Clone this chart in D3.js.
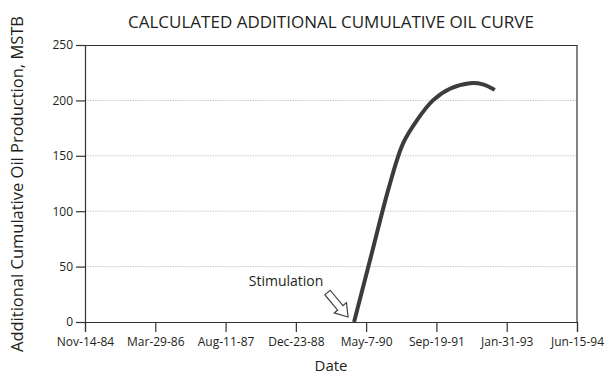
<!DOCTYPE html>
<html>
<head>
<meta charset="utf-8">
<script src="https://cdn.jsdelivr.net/npm/d3@7"></script>
<style>
    body { margin: 0; background: #fff; }
    svg text { font-family: "Open Sans", "Noto Sans", sans-serif; fill: #231f20; }
</style>
</head>
<body>
<div id="chart"></div>
<script>
// Curve points
const dates = ['1990-02-10', '1990-06-14', '1990-10-17', '1991-01-24', '1991-05-03',
    '1991-08-25', '1991-12-24', '1992-05-14', '1992-08-14', '1992-11-07'];
const cumOil = [0, 61, 122, 161, 182, 200, 210.5, 215.5, 214.5, 209.5];

const tickDates = ['1984-11-14', '1986-03-29', '1987-08-11', '1988-12-23', '1990-05-07', '1991-09-19', '1993-01-31', '1994-06-15'];
const tickLabels = ['Nov-14-84', 'Mar-29-86', 'Aug-11-87', 'Dec-23-88', 'May-7-90', 'Sep-19-91', 'Jan-31-93', 'Jun-15-94'];
const yTicks = [0, 50, 100, 150, 200, 250];

const stimulationDate = '1990-02-10';

const width = 607, height = 379;
const margin = {top: 45, right: 30, bottom: 57, left: 85};
const innerW = width - margin.left - margin.right;
const innerH = height - margin.top - margin.bottom;

const parse = d3.utcParse('%Y-%m-%d');
const data = dates.map((d, i) => ({date: parse(d), value: cumOil[i]}));

const svg = d3.select('#chart').append('svg')
    .attr('width', width)
    .attr('height', height);

const g = svg.append('g')
    .attr('transform', `translate(${margin.left},${margin.top})`);

const x = d3.scaleUtc()
    .domain([parse(tickDates[0]), parse(tickDates[tickDates.length - 1])])
    .range([0, innerW]);

const y = d3.scaleLinear()
    .domain([0, 250])
    .range([innerH, 0]);

// dotted gridlines
g.selectAll('.grid')
    .data(yTicks.slice(1, -1))
    .enter().append('line')
    .attr('class', 'grid')
    .attr('x1', 0)
    .attr('x2', innerW)
    .attr('y1', d => y(d))
    .attr('y2', d => y(d))
    .attr('stroke', '#c8c8c8')
    .attr('stroke-width', 1)
    .attr('stroke-dasharray', '1.5,1');

// frame top and right
g.append('path')
    .attr('d', `M0,0.5H${innerW}V${innerH}`)
    .attr('fill', 'none')
    .attr('stroke', '#333')
    .attr('stroke-width', 1.2);

// axes
const xAxis = g.append('g')
    .attr('transform', `translate(0,${innerH})`)
    .call(d3.axisBottom(x)
        .tickValues(tickDates.map(parse))
        .tickFormat((d, i) => tickLabels[i])
        .tickSize(10)
        .tickPadding(5));

const yAxis = g.append('g')
    .call(d3.axisLeft(y)
        .tickValues(yTicks)
        .tickSize(9)
        .tickPadding(3));

[xAxis, yAxis].forEach(a => {
    a.select('.domain').attr('stroke', '#333').attr('stroke-width', 1.2);
    a.selectAll('.tick line').attr('stroke', '#333').attr('stroke-width', 1.2);
    a.selectAll('.tick text')
        .attr('fill', '#231f20')
        .style('font-size', '12px')
        .style('font-family', '"Open Sans", sans-serif');
});

// the curve
const line = d3.line()
    .x(d => x(d.date))
    .y(d => y(d.value))
    .curve(d3.curveCatmullRom.alpha(0.5));

g.append('path')
    .datum(data)
    .attr('d', line)
    .attr('fill', 'none')
    .attr('stroke', '#3c3c3c')
    .attr('stroke-width', 4);

// stimulation arrow (hollow block arrow)
const sx = x(parse(stimulationDate)), sy = y(0);
const arrow = g.append('g')
    .attr('transform', `translate(${sx - 6},${sy - 5}) rotate(${-130})`);
arrow.append('path')
    .attr('d', 'M0,0 L12,-8 L12,-3.5 L32,-3.5 L32,3.5 L12,3.5 L12,8 Z')
    .attr('fill', '#fff')
    .attr('stroke', '#444')
    .attr('stroke-width', 1.2);

g.append('text')
    .attr('x', sx - 68)
    .attr('y', sy - 36)
    .attr('text-anchor', 'middle')
    .style('font-size', '14px')
    .text('Stimulation');

// titles
svg.append('text')
    .attr('x', margin.left + innerW / 2)
    .attr('y', 28)
    .attr('text-anchor', 'middle')
    .style('font-size', '17px')
    .text('CALCULATED ADDITIONAL CUMULATIVE OIL CURVE');

svg.append('text')
    .attr('x', margin.left + innerW / 2)
    .attr('y', 371)
    .attr('text-anchor', 'middle')
    .style('font-size', '15px')
    .text('Date');

svg.append('text')
    .attr('transform', `translate(23,184) rotate(-90)`)
    .attr('text-anchor', 'middle')
    .style('font-size', '16.5px')
    .text('Additional Cumulative Oil Production, MSTB');
</script>
</body>
</html>
